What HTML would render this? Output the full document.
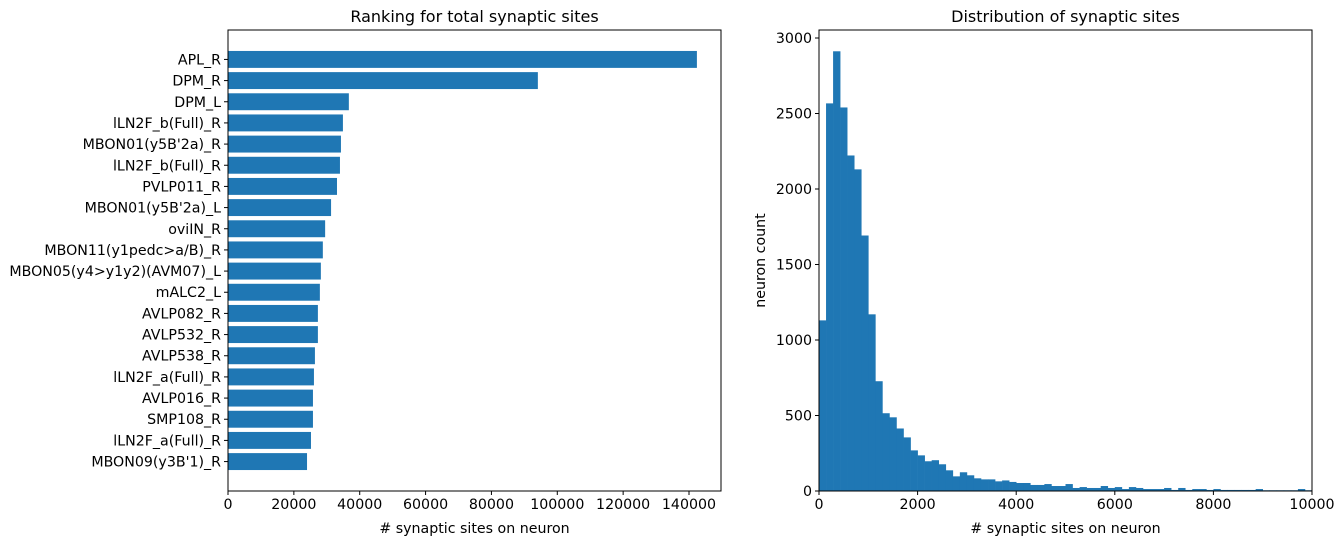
<!DOCTYPE html>
<html><head><meta charset="utf-8"><style>
body{margin:0;background:#fff}
svg{display:block;font-family:"DejaVu Sans","Liberation Sans",sans-serif}
</style></head><body>
<svg id="fig" width="1344" height="545" viewBox="0 0 1344 545" xmlns="http://www.w3.org/2000/svg">
<g id="left"></g>
<g id="right"></g>
</svg>
<script>
const neuronNames = ["APL_R","DPM_R","DPM_L","lLN2F_b(Full)_R","MBON01(y5B'2a)_R","lLN2F_b(Full)_R","PVLP011_R","MBON01(y5B'2a)_L","oviIN_R","MBON11(y1pedc>a/B)_R","MBON05(y4>y1y2)(AVM07)_L","mALC2_L","AVLP082_R","AVLP532_R","AVLP538_R","lLN2F_a(Full)_R","AVLP016_R","SMP108_R","lLN2F_a(Full)_R","MBON09(y3B'1)_R"];
const synapseTotals = [142400,94100,36700,34900,34300,34000,33100,31300,29500,28800,28200,27900,27300,27300,26400,26100,25800,25800,25200,24000];
const rankTicks = [0,20000,40000,60000,80000,100000,120000,140000];
const histCounts = [1130,2567,2912,2540,2222,2130,1692,1170,727,515,488,414,355,269,236,197,204,177,137,97,124,104,84,77,77,64,70,60,53,53,40,40,46,33,33,46,20,26,20,20,33,20,26,13,26,20,13,13,13,20,7,20,7,13,13,7,13,7,7,7,7,7,13,5,5,5,5,5,13,5];
const histBinWidth = 142.86;
const histXTicks = [0,2000,4000,6000,8000,10000];
const histYTicks = [0,500,1000,1500,2000,2500,3000];
const NS="http://www.w3.org/2000/svg";
const FS=14.2, TFS=16;
function mk(parent,tag,attrs,text){const e=document.createElementNS(NS,tag);for(const k in attrs)e.setAttribute(k,attrs[k]);if(text!==undefined)e.textContent=text;parent.appendChild(e);return e;}
const C="#1f77b4";
(function(){
 const g=document.getElementById('left');
 const L=228,R=721,T=30,B=491;
 const xmax=140000*(493/461);
 const xs=v=>L+v/xmax*(R-L);
 const n=neuronNames.length;
 const lo=-0.4-0.05*(n-1+0.8), hi=n-1+0.4+0.05*(n-1+0.8);
 const ys=i=>T+(i-lo)/(hi-lo)*(B-T);
 const bh=0.8*(B-T)/(hi-lo);
 for(let i=0;i<n;i++){
  const r=mk(g,'rect',{x:L,y:ys(i)-bh/2,width:xs(synapseTotals[i])-L,height:bh,fill:C});
  
  
  mk(g,'line',{x1:L-4,x2:L,y1:ys(i),y2:ys(i),stroke:'#000','stroke-width':1});
  const t=mk(g,'text',{x:L-7,y:ys(i)+5,'text-anchor':'end','font-size':FS},neuronNames[i]);
  
  
 }
 rankTicks.forEach(v=>{
  mk(g,'line',{x1:xs(v),x2:xs(v),y1:B,y2:B+4,stroke:'#000','stroke-width':1});
  const t=mk(g,'text',{x:xs(v),y:B+18,'text-anchor':'middle','font-size':FS},String(v));
  
  
 });
 mk(g,'rect',{x:L,y:T,width:R-L,height:B-T,fill:'none',stroke:'#000','stroke-width':1});
 const tt=mk(g,'text',{x:(L+R)/2,y:22,'text-anchor':'middle','font-size':TFS},'Ranking for total synaptic sites');
 
 const xl=mk(g,'text',{x:(L+R)/2,y:533,'text-anchor':'middle','font-size':FS},'# synaptic sites on neuron');
 
})();
(function(){
 const g=document.getElementById('right');
 const L=819,R=1312,T=30,B=491;
 const xs=v=>L+v/10000*(R-L);
 const ymax=3000*(461/453);
 const ys=v=>B-v/ymax*(B-T);
 const cp=mk(g,'clipPath',{id:'hc'});mk(cp,'rect',{x:L,y:T,width:R-L,height:B-T});
 const bars=mk(g,'g',{'clip-path':'url(#hc)'});
 histCounts.forEach((c,i)=>{
  const x0=xs(i*histBinWidth),x1=xs((i+1)*histBinWidth);
  const r=mk(bars,'rect',{x:x0,y:ys(c),width:x1-x0+0.3,height:B-ys(c),fill:C});
  
  
 });
 histXTicks.forEach(v=>{
  mk(g,'line',{x1:xs(v),x2:xs(v),y1:B,y2:B+4,stroke:'#000','stroke-width':1});
  const t=mk(g,'text',{x:xs(v),y:B+18,'text-anchor':'middle','font-size':FS},String(v));
  
 });
 histYTicks.forEach(v=>{
  mk(g,'line',{x1:L-4,x2:L,y1:ys(v),y2:ys(v),stroke:'#000','stroke-width':1});
  const t=mk(g,'text',{x:L-7,y:ys(v)+5,'text-anchor':'end','font-size':FS},String(v));
  
 });
 mk(g,'rect',{x:L,y:T,width:R-L,height:B-T,fill:'none',stroke:'#000','stroke-width':1});
 const tt=mk(g,'text',{x:(L+R)/2,y:22,'text-anchor':'middle','font-size':TFS},'Distribution of synaptic sites');
 
 const xl=mk(g,'text',{x:(L+R)/2,y:533,'text-anchor':'middle','font-size':FS},'# synaptic sites on neuron');
 
 const yl=mk(g,'text',{x:765,y:(T+B)/2,'text-anchor':'middle','font-size':FS,transform:'rotate(-90 765 '+((T+B)/2)+')'},'neuron count');
 
})();
</script>
</body></html>
